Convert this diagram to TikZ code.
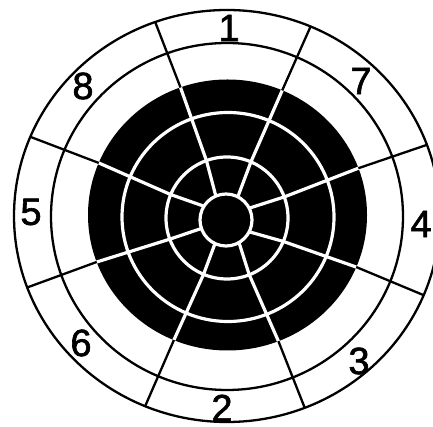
\documentclass[tikz,border=0pt]{standalone}
\usepackage{fontspec}
\setmainfont{Liberation Sans}
\newfontfamily\digfont[FakeBold=1.6]{Liberation Sans}
\usetikzlibrary{calc}
\begin{document}
\begin{tikzpicture}[x=1pt,y=1pt,
  wline/.style={white,line width=3.2pt},
  bline/.style={black,line width=2.3pt},
  lbl/.style={font=\digfont\fontsize{38}{38}\selectfont,inner sep=0pt}]
\useasboundingbox (0,0) rectangle (433,427);
\fill[white] (0,0) rectangle (433,427);
\coordinate (O) at (227,211);
\coordinate (S) at (227,210.5);
\coordinate (D) at (227.5,212);
\coordinate (R3) at (228,210);
\coordinate (R2) at (227,209);
\coordinate (Cc) at (226,207);
% dark disk
\fill[black] (D) ellipse [x radius=139.5, y radius=135.5];
% white rings inside the disk
\draw[wline] (R3) ellipse [x radius=106, y radius=104.5];
\draw[wline] (R2) circle [radius=61];
\draw[wline] (Cc) circle [radius=26];
% spokes
\foreach \a/\b in {113/109.7, 63/66.9, 148/157.4, 199/200.3, 27/20.2, 333/337.4, 245/247.4, 300/291.4} {
  \draw[wline] ($(Cc)+(\a:26)$) -- ($(R2)+(\b:61)$) -- ($(D)+(\b:139.5 and 135.5)$);
  \draw[bline] ($(D)+(\b:139.5 and 135.5)$) -- ($(O)+(\b:213 and 206)$);
}
% black rings
\draw[bline] (S) ellipse [x radius=176, y radius=173.5];
\draw[bline] (O) ellipse [x radius=213, y radius=206];
% labels
\node[lbl] (n1) at (229,399) {1};
\node[lbl] (n7) at (361,346) {7};
\node[lbl] (n4) at (421,203) {4};
\node[lbl] (n3) at (359,66) {3};
\node[lbl] (n2) at (222,19) {2};
\node[lbl] (n6) at (81,84) {6};
\node[lbl] (n5) at (31,215) {5};
\node[lbl] (n8) at (83,341) {8};
\end{tikzpicture}
\end{document}
